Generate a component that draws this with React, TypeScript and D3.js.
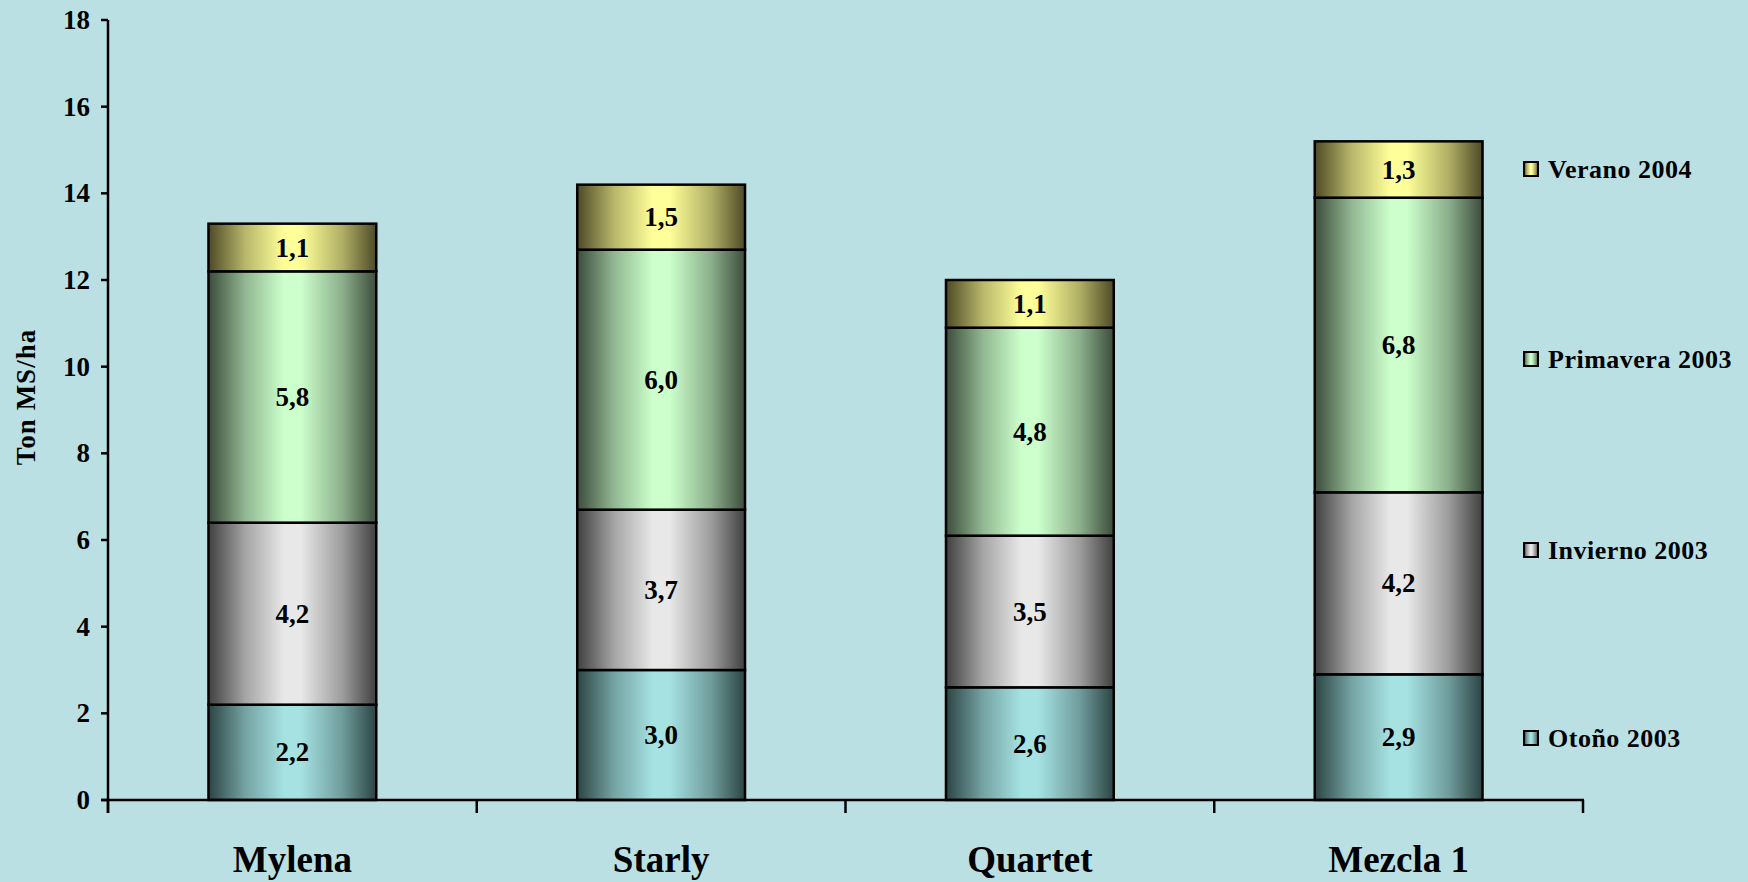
import React from "react";
import * as d3 from "d3";

const categories = ["Mylena", "Starly", "Quartet", "Mezcla 1"];
const seriesNames = ["Otoño 2003", "Invierno 2003", "Primavera 2003", "Verano 2004"];
const otono = [2.2, 3.0, 2.6, 2.9];
const invierno = [4.2, 3.7, 3.5, 4.2];
const primavera = [5.8, 6.0, 4.8, 6.8];
const verano = [1.1, 1.5, 1.1, 1.3];
const yTicks = [0, 2, 4, 6, 8, 10, 12, 14, 16, 18];
const lightColors = ["#a6e2e2", "#e8e8e8", "#ccffcc", "#ffff99"];
const darkColors = ["#2c4444", "#404040", "#3c4c3c", "#4e4a26"];

const W = 1748;
const H = 882;
const BG = "#bbe0e3";
const FONT = "'Liberation Serif', 'Times New Roman', serif";

export default function App() {
  const series = [otono, invierno, primavera, verano];
  const x = d3.scaleBand<string>().domain(categories).range([108, 1583]).padding(0);
  const y = d3.scaleLinear().domain([0, 18]).range([800, 20]);
  const barW = x.bandwidth() * 0.455;
  const fmt = (v: number) => d3.format(".1f")(v).replace(".", ",");

  const stackData = categories.map((c, i) => {
    const row: any = { cat: c };
    seriesNames.forEach((s, k) => (row[s] = series[k][i]));
    return row;
  });
  const stacked = d3.stack<any>().keys(seriesNames)(stackData);

  const legendY = [738, 550, 359, 169];
  const boundaries = [...categories.map((c) => x(c) as number), 1583];

  return (
    <svg
      width={W}
      height={H}
      style={{ position: "absolute", left: 0, top: 0, display: "block", background: BG }}
      fontFamily={FONT}
    >
      <defs>
        {seriesNames.map((s, k) => (
          <linearGradient key={k} id={`g${k}`} x1="0" x2="1" y1="0" y2="0">
            <stop offset="0" stopColor={darkColors[k]} />
            <stop offset="0.22" stopColor={d3.interpolateRgb(darkColors[k], lightColors[k])(0.6)} />
            <stop offset="0.45" stopColor={lightColors[k]} />
            <stop offset="0.55" stopColor={lightColors[k]} />
            <stop offset="0.8" stopColor={d3.interpolateRgb(darkColors[k], lightColors[k])(0.55)} />
            <stop offset="1" stopColor={darkColors[k]} />
          </linearGradient>
        ))}
      </defs>
      <rect x={0} y={0} width={W} height={H} fill={BG} />

      {/* bars */}
      {stacked.map((layer, k) => (
        <g key={k}>
          {layer.map((d, i) => {
            const cx = (x(categories[i]) as number) + x.bandwidth() / 2;
            const y0 = y(d[0]);
            const y1 = y(d[1]);
            return (
              <g key={i}>
                <rect
                  x={cx - barW / 2}
                  y={y1}
                  width={barW}
                  height={y0 - y1}
                  fill={`url(#g${k})`}
                  stroke="#000"
                  strokeWidth={2.5}
                />
                <text
                  x={cx}
                  y={(y0 + y1) / 2 + 9}
                  textAnchor="middle"
                  fontSize={27}
                  fontWeight="bold"
                  fill="#000"
                >
                  {fmt(series[k][i])}
                </text>
              </g>
            );
          })}
        </g>
      ))}

      {/* y axis */}
      <line x1={108} x2={108} y1={y(18)} y2={813} stroke="#000" strokeWidth={2.5} />
      {yTicks.map((t) => (
        <g key={t}>
          <line x1={101} x2={108} y1={y(t)} y2={y(t)} stroke="#000" strokeWidth={2.5} />
          <text x={90} y={y(t) + 9} textAnchor="end" fontSize={27} fontWeight="bold">
            {t}
          </text>
        </g>
      ))}

      {/* x axis */}
      <line x1={101} x2={1584} y1={y(0)} y2={y(0)} stroke="#000" strokeWidth={2.5} />
      {boundaries.map((b, i) => (
        <line key={i} x1={b} x2={b} y1={y(0)} y2={813} stroke="#000" strokeWidth={2.5} />
      ))}
      {categories.map((c) => (
        <text
          key={c}
          x={(x(c) as number) + x.bandwidth() / 2}
          y={872}
          textAnchor="middle"
          fontSize={37}
          fontWeight="bold"
        >
          {c}
        </text>
      ))}

      {/* y title */}
      <text
        transform={`translate(35,397) rotate(-90)`}
        textAnchor="middle"
        fontSize={27}
        fontWeight="bold"
        letterSpacing={1}
      >
        Ton MS/ha
      </text>

      {/* legend */}
      {seriesNames.map((s, k) => (
        <g key={s}>
          <rect
            x={1524}
            y={legendY[k] - 7}
            width={14}
            height={14}
            fill={`url(#g${k})`}
            stroke="#000"
            strokeWidth={2}
          />
          <text x={1548} y={legendY[k] + 9} fontSize={26} fontWeight="bold" letterSpacing={0.5}>
            {s}
          </text>
        </g>
      ))}
    </svg>
  );
}
